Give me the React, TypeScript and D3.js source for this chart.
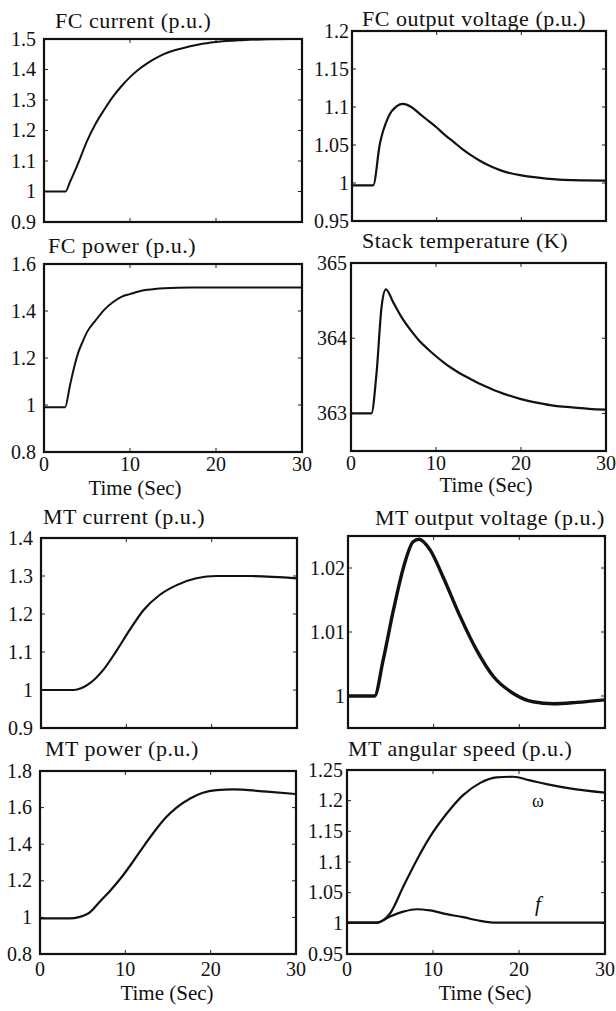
import React from "react";
import * as d3 from "d3";

// ---------- data ----------
const fcCurrentT = [0, 2.5, 3.0, 4, 5, 6, 7, 8, 9, 10, 11, 12, 13, 14, 16, 18, 20, 23, 26, 30];
const fcCurrentV = [1.0, 1.0, 1.03, 1.095, 1.165, 1.222, 1.268, 1.31, 1.345, 1.375, 1.4, 1.42, 1.437, 1.451, 1.469, 1.482, 1.49, 1.496, 1.499, 1.5];

const fcVoltT = [0, 2.5, 3.3, 4.3, 5.3, 6.0, 7, 8, 9, 10, 11, 12, 13, 14, 15, 16, 17, 18, 20, 22, 25, 30];
const fcVoltV = [0.997, 0.997, 1.052, 1.087, 1.101, 1.104, 1.1, 1.091, 1.082, 1.073, 1.063, 1.054, 1.045, 1.037, 1.03, 1.024, 1.019, 1.015, 1.01, 1.007, 1.004, 1.003];

const fcPowerT = [0, 2.45, 3.0, 3.5, 4, 4.5, 5, 6, 7, 8, 9, 10, 11, 12, 14, 17, 30];
const fcPowerV = [0.99, 0.99, 1.08, 1.16, 1.225, 1.27, 1.31, 1.36, 1.405, 1.437, 1.46, 1.472, 1.483, 1.49, 1.497, 1.5, 1.5];

const stackT = [0, 2.4, 3.0, 3.6, 4.1, 5, 6, 7, 8, 9, 10, 11, 12, 13, 14, 15, 16, 17, 18, 20, 22, 24, 26, 28, 30];
const stackV = [363.0, 363.0, 363.53, 364.42, 364.65, 364.47, 364.27, 364.11, 363.97, 363.86, 363.76, 363.67, 363.59, 363.52, 363.46, 363.4, 363.35, 363.3, 363.26, 363.19, 363.14, 363.1, 363.08, 363.06, 363.05];

const mtCurrentT = [0, 3.8, 5.74, 7.3, 8.9, 10.4, 12.0, 13.9, 15.9, 18.2, 20.6, 24.5, 30];
const mtCurrentV = [1.0, 1.0, 1.018, 1.053, 1.105, 1.158, 1.21, 1.25, 1.276, 1.294, 1.3, 1.3, 1.294];

const mtVoltT = [0, 3.1, 4.1, 5.3, 6.5, 7.6, 8.3, 9.6, 11.1, 13.1, 15.0, 17.0, 19.3, 21.6, 24.0, 26.7, 30];
const mtVoltV = [1.0, 1.0, 1.0056, 1.0134, 1.0202, 1.0241, 1.0245, 1.0228, 1.0186, 1.0124, 1.0072, 1.003, 1.0004, 0.9991, 0.9988, 0.999, 0.9994];

const mtPowerT = [0, 3.5, 5.6, 7.0, 8.3, 9.6, 10.9, 12.1, 13.5, 14.8, 16, 17.6, 19, 20.7, 22.6, 26.6, 30];
const mtPowerV = [0.995, 0.995, 1.02, 1.086, 1.15, 1.222, 1.305, 1.386, 1.475, 1.548, 1.6, 1.65, 1.68, 1.696, 1.7, 1.687, 1.674];

const omegaT = [0, 3.45, 4.3, 5.0, 6.55, 8.1, 9.65, 11.6, 13.5, 15.5, 17.4, 19.3, 21.3, 23.2, 25.9, 30];
const omegaV = [1.001, 1.001, 1.006, 1.016, 1.06, 1.103, 1.141, 1.179, 1.209, 1.229, 1.238, 1.239, 1.233, 1.227, 1.22, 1.213];

const freqT = [0, 3.45, 5.0, 6.55, 8.1, 9.65, 11.6, 13.5, 15.5, 17.4, 20, 30];
const freqV = [1.001, 1.001, 1.011, 1.019, 1.023, 1.021, 1.015, 1.01, 1.004, 1.001, 1.001, 1.001];

const timeTicks = ["0", "10", "20", "30"];
const fcCurrentTicks = ["0.9", "1", "1.1", "1.2", "1.3", "1.4", "1.5"];
const fcVoltTicks = ["0.95", "1", "1.05", "1.1", "1.15", "1.2"];
const fcPowerTicks = ["0.8", "1", "1.2", "1.4", "1.6"];
const stackTicks = ["363", "364", "365"];
const mtCurrentTicks = ["0.9", "1", "1.1", "1.2", "1.3", "1.4"];
const mtVoltTicks = ["1", "1.01", "1.02"];
const mtPowerTicks = ["0.8", "1", "1.2", "1.4", "1.6", "1.8"];
const mtSpeedTicks = ["0.95", "1", "1.05", "1.1", "1.15", "1.2", "1.25"];

// ---------- layout ----------
type Series = { t: number[]; v: number[]; w: number };
type Panel = {
  title: string;
  tx: number;
  ty: number;
  box: [number, number, number, number];
  yDomain: [number, number];
  yTicks: string[];
  gap: number;
  xLabels?: { y: number; ty: number; cx: number };
  series: Series[];
};

const panels: Panel[] = [
  { title: "FC current (p.u.)", tx: 55, ty: 28, box: [44, 39, 302, 222], yDomain: [0.9, 1.5], yTicks: fcCurrentTicks, gap: 8,
    series: [{ t: fcCurrentT, v: fcCurrentV, w: 2 }] },
  { title: "FC output voltage (p.u.)", tx: 362, ty: 26, box: [352, 31, 606, 221], yDomain: [0.95, 1.2], yTicks: fcVoltTicks, gap: 3,
    series: [{ t: fcVoltT, v: fcVoltV, w: 2.2 }] },
  { title: "FC power (p.u.)", tx: 48, ty: 253, box: [44, 264, 302, 452], yDomain: [0.8, 1.6], yTicks: fcPowerTicks, gap: 8,
    xLabels: { y: 471, ty: 495, cx: 135 }, series: [{ t: fcPowerT, v: fcPowerV, w: 2 }] },
  { title: "Stack temperature (K)", tx: 362, ty: 248, box: [351, 263, 606, 451], yDomain: [362.5, 365], yTicks: stackTicks, gap: 4,
    xLabels: { y: 470, ty: 492, cx: 486 }, series: [{ t: stackT, v: stackV, w: 2.2 }] },
  { title: "MT current (p.u.)", tx: 43, ty: 524, box: [41, 538, 297, 728], yDomain: [0.9, 1.4], yTicks: mtCurrentTicks, gap: 8,
    series: [{ t: mtCurrentT, v: mtCurrentV, w: 2.2 }] },
  { title: "MT output voltage (p.u.)", tx: 375, ty: 525, box: [348, 536, 605, 728], yDomain: [0.995, 1.025], yTicks: mtVoltTicks, gap: 3,
    series: [{ t: mtVoltT, v: mtVoltV, w: 3.4 }] },
  { title: "MT power (p.u.)", tx: 45, ty: 756, box: [40, 771, 296, 954], yDomain: [0.8, 1.8], yTicks: mtPowerTicks, gap: 8,
    xLabels: { y: 976, ty: 1000, cx: 167 }, series: [{ t: mtPowerT, v: mtPowerV, w: 2.2 }] },
  { title: "MT angular speed (p.u.)", tx: 348, ty: 756, box: [347, 770, 605, 954], yDomain: [0.95, 1.25], yTicks: mtSpeedTicks, gap: 4,
    xLabels: { y: 976, ty: 1000, cx: 485 },
    series: [{ t: omegaT, v: omegaV, w: 2.2 }, { t: freqT, v: freqV, w: 2.2 }] },
];

const FONT = '"Liberation Serif", "Times New Roman", Times, "DejaVu Serif", serif';
const txt = (size: number, extra: React.CSSProperties = {}): React.CSSProperties => ({
  fontFamily: FONT,
  fontSize: size + "px",
  fill: "#111",
  ...extra,
});

function PanelView({ p, idx }: { p: Panel; idx: number }) {
  const [x0, y0, x1, y1] = p.box;
  const x = d3.scaleLinear().domain([0, 30]).range([x0, x1]);
  const y = d3.scaleLinear().domain(p.yDomain).range([y1, y0]);
  const line = d3
    .line<[number, number]>()
    .x((d) => x(d[0]))
    .y((d) => y(d[1]))
    .curve(d3.curveMonotoneX);
  const clipId = `clip${idx}`;
  const tickLen = 4;
  return (
    <g>
      <defs>
        <clipPath id={clipId}>
          <rect x={x0} y={y0 - 1} width={x1 - x0} height={y1 - y0 + 2} />
        </clipPath>
      </defs>
      <text x={p.tx} y={p.ty} style={txt(22, { letterSpacing: "0.5px" })}>
        {p.title}
      </text>
      {p.yTicks.map((s) => {
        const yy = y(+s);
        return (
          <g key={"y" + s}>
            <line x1={x0} x2={x0 + tickLen} y1={yy} y2={yy} stroke="#222" strokeWidth={1} />
            <line x1={x1} x2={x1 - tickLen} y1={yy} y2={yy} stroke="#222" strokeWidth={1} />
            <text x={x0 - p.gap} y={yy} dy="0.33em" textAnchor="end" style={txt(20)}>
              {s}
            </text>
          </g>
        );
      })}
      {timeTicks.map((s) => {
        const xx = x(+s);
        return (
          <g key={"x" + s}>
            <line x1={xx} x2={xx} y1={y1} y2={y1 - tickLen} stroke="#222" strokeWidth={1} />
            <line x1={xx} x2={xx} y1={y0} y2={y0 + tickLen} stroke="#222" strokeWidth={1} />
            {p.xLabels && (
              <text x={xx} y={p.xLabels.y} textAnchor="middle" style={txt(20)}>
                {s}
              </text>
            )}
          </g>
        );
      })}
      {p.xLabels && (
        <text x={p.xLabels.cx} y={p.xLabels.ty} textAnchor="middle" style={txt(21)}>
          Time (Sec)
        </text>
      )}
      <g clipPath={`url(#${clipId})`}>
        {p.series.map((s, i) => (
          <path
            key={i}
            d={line(s.t.map((t, j) => [t, s.v[j]] as [number, number])) || ""}
            fill="none"
            stroke="#111"
            strokeWidth={s.w}
            strokeLinejoin="round"
          />
        ))}
      </g>
      <rect x={x0} y={y0} width={x1 - x0} height={y1 - y0} fill="none" stroke="#111" strokeWidth={2.2} />
    </g>
  );
}

export default function App() {
  const speed = panels[7];
  const sx = d3.scaleLinear().domain([0, 30]).range([speed.box[0], speed.box[2]]);
  const sy = d3.scaleLinear().domain(speed.yDomain).range([speed.box[3], speed.box[1]]);
  return (
    <svg
      width={616}
      height={1011}
      viewBox="0 0 616 1011"
      style={{ position: "absolute", left: 0, top: 0, background: "#fff" }}
    >
      <rect x={0} y={0} width={616} height={1011} fill="#fff" />
      {panels.map((p, i) => (
        <PanelView key={i} p={p} idx={i} />
      ))}
      <text x={sx(22.2)} y={sy(1.19)} textAnchor="middle" style={txt(18)}>
        ω
      </text>
      <text x={sx(22.2)} y={sy(1.02)} textAnchor="middle" style={txt(21, { fontStyle: "italic" })}>
        f
      </text>
    </svg>
  );
}
